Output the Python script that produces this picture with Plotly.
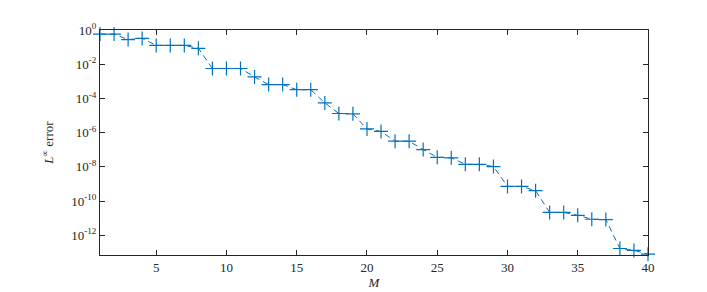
import plotly.graph_objects as go

M = list(range(1, 41))
log_err = [-0.24, -0.24, -0.56, -0.49, -0.90, -0.90, -0.90, -1.07, -2.25, -2.25,
           -2.25, -2.74, -3.19, -3.19, -3.49, -3.49, -4.26, -4.88, -4.90, -5.78,
           -5.93, -6.50, -6.50, -6.99, -7.44, -7.47, -7.85, -7.85, -7.98, -9.14,
           -9.14, -9.39, -10.66, -10.66, -10.83, -11.06, -11.08, -12.77, -12.88, -13.10]
err = [10 ** v for v in log_err]

ytick_exp = [0, -2, -4, -6, -8, -10, -12]
ytick_vals = [10 ** e for e in ytick_exp]
ytick_text = ["10<sup>%d</sup>" % e for e in ytick_exp]
xtick_vals = [5, 10, 15, 20, 25, 30, 35, 40]

blue = "#0072BD"
axcol = "#262626"
font = "'Times New Roman', 'Liberation Serif', serif"

fig = go.Figure()
fig.add_trace(go.Scatter(
    x=M, y=err, mode="lines+markers",
    line=dict(color=blue, width=1, dash="6px,4px"),
    marker=dict(symbol="cross-thin", size=10, line=dict(color=blue, width=1.2), color=blue),
    showlegend=False, cliponaxis=False,
))

fig.update_layout(
    width=707, height=292,
    margin=dict(l=92, r=67, t=22, b=37),
    paper_bgcolor="white", plot_bgcolor="white",
    font=dict(family=font, size=13, color=axcol),
)
fig.update_xaxes(
    range=[1, 40], tickvals=xtick_vals, ticks="inside", ticklen=5, tickwidth=1,
    tickcolor=axcol, showline=True, linecolor=axcol, linewidth=1, mirror="ticks",
    showgrid=False, zeroline=False,
    title=dict(text="<i>M</i>", standoff=4, font=dict(size=13, family=font, color=axcol)),
    tickfont=dict(size=13, family=font, color=axcol),
)
fig.update_yaxes(
    type="log", range=[-13.15, 0.0], tickvals=ytick_vals, ticktext=ytick_text,
    ticks="inside", ticklen=5, tickwidth=1, tickcolor=axcol,
    showline=True, linecolor=axcol, linewidth=1, mirror="ticks",
    showgrid=False, zeroline=False,
    title=dict(text="<i>L</i><sup>∞</sup> error", standoff=14, font=dict(size=13, family=font, color=axcol)),
    tickfont=dict(size=13, family=font, color=axcol),
)

fig.write_html("out.html")
